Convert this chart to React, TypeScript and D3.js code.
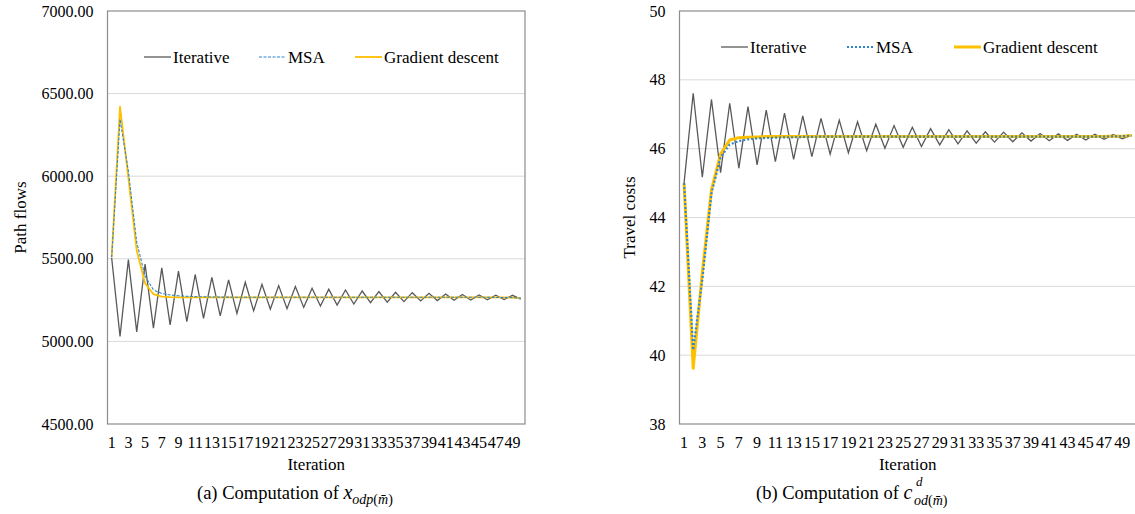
import React from "react";
import * as d3 from "d3";

const iterations: number[] = Array.from({ length: 50 }, (_, i) => i + 1);

const leftIterative = [5505, 5030, 5495, 5058, 5468, 5080, 5445, 5100, 5425, 5120, 5405, 5140, 5388, 5155, 5372, 5170, 5358, 5185, 5346, 5195, 5338, 5198, 5332, 5206, 5322, 5214, 5316, 5220, 5311, 5226, 5305, 5234, 5301, 5237, 5297, 5241, 5295, 5245, 5291, 5247, 5287, 5249, 5284, 5251, 5281, 5252, 5280, 5253, 5279, 5256];
const leftMSA = [5509, 6345, 6030, 5600, 5395, 5312, 5290, 5281, 5276, 5273, 5271, 5270, 5269, 5268, 5268, 5267, 5267, 5267, 5267, 5267, 5267, 5267, 5267, 5267, 5267, 5267, 5267, 5267, 5267, 5267, 5267, 5267, 5267, 5267, 5267, 5267, 5267, 5267, 5267, 5267, 5267, 5267, 5267, 5267, 5267, 5267, 5266, 5266, 5265, 5262];
const leftGD = [5509, 6421, 5990, 5550, 5352, 5286, 5271, 5268, 5267, 5267, 5267, 5267, 5267, 5267, 5267, 5267, 5267, 5267, 5267, 5267, 5267, 5267, 5267, 5267, 5267, 5267, 5267, 5267, 5267, 5267, 5267, 5267, 5267, 5267, 5267, 5267, 5267, 5267, 5267, 5267, 5267, 5267, 5267, 5267, 5267, 5267, 5266, 5266, 5265, 5262];
const leftTicks = [4500, 5000, 5500, 6000, 6500, 7000];

const rightIterative = [45.0, 47.61, 45.17, 47.43, 45.3, 47.32, 45.43, 47.22, 45.53, 47.12, 45.62, 47.03, 45.69, 46.95, 45.77, 46.88, 45.84, 46.83, 45.88, 46.78, 45.94, 46.71, 46.01, 46.67, 46.04, 46.62, 46.06, 46.58, 46.11, 46.55, 46.14, 46.52, 46.16, 46.49, 46.19, 46.48, 46.2, 46.46, 46.22, 46.44, 46.23, 46.43, 46.24, 46.42, 46.25, 46.42, 46.27, 46.41, 46.29, 46.39];
const rightMSA = [45.0, 40.15, 42.2, 44.7, 45.75, 46.12, 46.22, 46.27, 46.3, 46.31, 46.32, 46.33, 46.33, 46.34, 46.34, 46.35, 46.35, 46.35, 46.35, 46.35, 46.35, 46.35, 46.35, 46.35, 46.35, 46.35, 46.35, 46.35, 46.35, 46.35, 46.35, 46.35, 46.35, 46.35, 46.35, 46.35, 46.35, 46.35, 46.35, 46.35, 46.35, 46.35, 46.35, 46.35, 46.35, 46.35, 46.35, 46.36, 46.36, 46.38];
const rightGD = [45.0, 39.62, 42.4, 44.8, 45.84, 46.25, 46.32, 46.33, 46.34, 46.35, 46.35, 46.35, 46.35, 46.35, 46.35, 46.35, 46.35, 46.35, 46.35, 46.35, 46.35, 46.35, 46.35, 46.35, 46.35, 46.35, 46.35, 46.35, 46.35, 46.35, 46.35, 46.35, 46.35, 46.35, 46.35, 46.35, 46.35, 46.35, 46.35, 46.35, 46.35, 46.35, 46.35, 46.35, 46.35, 46.35, 46.35, 46.36, 46.36, 46.38];
const rightTicks = [38, 40, 42, 44, 46, 48, 50];

const seriesNames = ["Iterative", "MSA", "Gradient descent"];

const FONT = "'Liberation Serif', 'Times New Roman', serif";
const GRAY = "#595959";
const BLUE = "#2E86D0";
const YELLOW = "#FFC000";

type PanelProps = {
  x0: number; x1: number; y0: number; y1: number;
  domain: [number, number]; ticks: number[]; fmt: (v: number) => string;
  iter: number[]; msa: number[]; gd: number[];
  yTitle: string; yTitleX: number;
  legendY: number; legendX: number[];
  thick: boolean;
};

function Panel(p: PanelProps) {
  const x = d3.scalePoint<number>().domain(iterations).range([p.x0, p.x1]).padding(0.5);
  const y = d3.scaleLinear().domain(p.domain).range([p.y1, p.y0]);
  const line = d3.line<number>().x((_, i) => x(iterations[i]) as number).y((d) => y(d));
  const cx = (p.x0 + p.x1) / 2;
  const cy = (p.y0 + p.y1) / 2;
  const sw = p.thick ? { iter: 1.3, msa: 2.2, gd: 3 } : { iter: 1.3, msa: 1.1, gd: 1.8 };
  const msaDash = p.thick ? "2 2" : "3 1.5";
  return (
    <g>
      {p.ticks.map((t) => (
        <g key={t}>
          {t !== p.domain[0] && t !== p.domain[1] && (
            <line x1={p.x0} x2={p.x1} y1={y(t)} y2={y(t)} stroke="#D9D9D9" strokeWidth={1} />
          )}
          <text x={p.x0 - 14} y={y(t)} dy="0.35em" textAnchor="end" fontSize={16} fontFamily={FONT} fill="#000">
            {p.fmt(t)}
          </text>
        </g>
      ))}
      <rect x={p.x0} y={p.y0} width={p.x1 - p.x0} height={p.y1 - p.y0} fill="none" stroke="#8C8C8C" strokeWidth={1.2} />
      <path d={line(p.iter) || ""} fill="none" stroke={GRAY} strokeWidth={sw.iter} />
      <path d={line(p.gd) || ""} fill="none" stroke={YELLOW} strokeWidth={sw.gd} strokeLinejoin="round" />
      <path d={line(p.msa) || ""} fill="none" stroke={BLUE} strokeWidth={sw.msa} strokeDasharray={msaDash} />
      {iterations.filter((v) => v % 2 === 1).map((v) => (
        <text key={v} x={x(v)} y={p.y1 + 18} dy="0.35em" textAnchor="middle" fontSize={16} fontFamily={FONT}>
          {v}
        </text>
      ))}
      <text x={cx} y={p.y1 + 40} dy="0.35em" textAnchor="middle" fontSize={17} fontFamily={FONT}>Iteration</text>
      <text transform={`translate(${p.yTitleX},${cy}) rotate(-90)`} textAnchor="middle" dy="0.35em" fontSize={17} fontFamily={FONT}>
        {p.yTitle}
      </text>
      {seriesNames.map((name, i) => {
        const lx = p.legendX[i];
        const stroke = i === 0 ? GRAY : i === 1 ? BLUE : YELLOW;
        const w = i === 0 ? 1.3 : i === 1 ? sw.msa : sw.gd;
        return (
          <g key={name}>
            <line x1={lx} x2={lx + 27} y1={p.legendY} y2={p.legendY} stroke={stroke} strokeWidth={w}
              strokeDasharray={i === 1 ? msaDash : undefined} />
            <text x={lx + 29} y={p.legendY} dy="0.35em" fontSize={17} fontFamily={FONT}>{name}</text>
          </g>
        );
      })}
    </g>
  );
}

export default function App() {
  const fmt2 = d3.format(".2f");
  const fmt0 = d3.format("d");
  return (
    <svg width={1135} height={514} style={{ position: "absolute", left: 0, top: 0, background: "#fff" }}>
      <rect width={1135} height={514} fill="#fff" />
      <Panel x0={107.5} x1={525} y0={11} y1={424} domain={[4500, 7000]} ticks={leftTicks} fmt={fmt2}
        iter={leftIterative} msa={leftMSA} gd={leftGD} yTitle="Path flows" yTitleX={20}
        legendY={57} legendX={[144, 259, 355]} thick={false} />
      <Panel x0={679.5} x1={1136} y0={11} y1={424} domain={[38, 50]} ticks={rightTicks} fmt={fmt0}
        iter={rightIterative} msa={rightMSA} gd={rightGD} yTitle="Travel costs" yTitleX={629}
        legendY={47} legendX={[721, 847, 954]} thick={true} />
      <text x={197} y={499} fontSize={18.5} fontFamily={FONT}>
        (a) Computation of{" "}
        <tspan fontStyle="italic" fontSize={20}>x</tspan>
        <tspan fontSize={14} dy={5}>
          <tspan fontStyle="italic">odp</tspan>(<tspan fontStyle="italic">m̄</tspan>)
        </tspan>
      </text>
      <text x={756} y={499} fontSize={18.5} fontFamily={FONT}>
        (b) Computation of{" "}
        <tspan fontStyle="italic" fontSize={20}>c</tspan>
      </text>
      <text x={916} y={486} fontSize={13} fontFamily={FONT} fontStyle="italic">d</text>
      <text x={914} y={505} fontSize={14} fontFamily={FONT}>
        <tspan fontStyle="italic">od</tspan>(<tspan fontStyle="italic">m̄</tspan>)
      </text>
    </svg>
  );
}
